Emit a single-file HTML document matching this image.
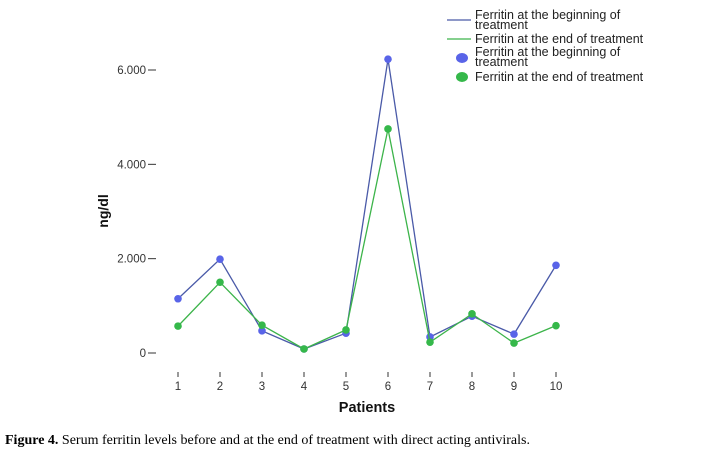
<!DOCTYPE html>
<html><head><meta charset="utf-8"><style>
html,body{margin:0;padding:0;background:#fff;width:706px;height:455px;overflow:hidden}
svg{display:block}
</style></head><body>
<svg id="chart" width="706" height="455" font-family="Liberation Sans, Arial, sans-serif">
<g id="legend">
  <line x1="447" y1="20" x2="471" y2="20" stroke="#4a5aa8" stroke-width="1.3"/>
  <text x="475" y="19" font-size="12.5" fill="#222">Ferritin at the beginning of</text>
  <text x="475" y="29" font-size="12.5" fill="#222">treatment</text>
  <line x1="447" y1="39" x2="471" y2="39" stroke="#3cb44a" stroke-width="1.3"/>
  <text x="475" y="43" font-size="12.5" fill="#222">Ferritin at the end of treatment</text>
  <ellipse cx="462" cy="58" rx="6" ry="5" fill="#5964e8"/>
  <text x="475" y="56" font-size="12.5" fill="#222">Ferritin at the beginning of</text>
  <text x="475" y="66" font-size="12.5" fill="#222">treatment</text>
  <ellipse cx="462" cy="77" rx="6" ry="5" fill="#35b84a"/>
  <text x="475" y="81" font-size="12.5" fill="#222">Ferritin at the end of treatment</text>
</g>
<g id="axes"></g>
<g id="series"></g>
<text x="108" y="211" font-size="14" font-weight="bold" fill="#111" transform="rotate(-90 108 211)" text-anchor="middle">ng/dl</text>
<text x="367" y="412" font-size="14.5" font-weight="bold" fill="#111" text-anchor="middle">Patients</text>
<text x="5" y="444" font-size="14" font-family="Liberation Serif, Times New Roman, serif" fill="#000"><tspan font-weight="bold">Figure 4.</tspan> Serum ferritin levels before and at the end of treatment with direct acting antivirals.</text>
</svg>
<script>
const categories = ["1","2","3","4","5","6","7","8","9","10"];
const beginValues = [1150, 1990, 470, 85, 420, 6230, 340, 780, 400, 1860];
const endValues = [570, 1500, 590, 85, 490, 4750, 230, 830, 210, 580];
const yTicks = [0, 2000, 4000, 6000];
const yTickLabels = ["0", "2.000", "4.000", "6.000"];

const NS = "http://www.w3.org/2000/svg";
function x(i){ return 178 + i * 42; }
function y(v){ return 353 - v * (283 / 6000); }
function mk(tag, attrs, parent){
  const e = document.createElementNS(NS, tag);
  for (const k in attrs) e.setAttribute(k, attrs[k]);
  parent.appendChild(e); return e;
}
const axes = document.getElementById("axes");
const series = document.getElementById("series");
yTicks.forEach((t, i) => {
  const ln = mk("line", {x1:148, x2:156, y1:y(t), y2:y(t), stroke:"#333", "stroke-width":1}, axes);
  
  
  const tx = mk("text", {x:146, y:y(t)+4, "font-size":11.5, fill:"#333", "text-anchor":"end"}, axes);
  tx.textContent = yTickLabels[i];
  
  
});
categories.forEach((c, i) => {
  const ln = mk("line", {x1:x(i), x2:x(i), y1:372, y2:377, stroke:"#333", "stroke-width":1}, axes);
  
  
  const tx = mk("text", {x:x(i), y:390, "font-size":11.5, fill:"#333", "text-anchor":"middle"}, axes);
  tx.textContent = c;
  
  
});
function drawSeries(vals, lineColor, dotColor, name){
  const pl = mk("polyline", {points: vals.map((v,i)=>x(i)+","+y(v)).join(" "), fill:"none", stroke:lineColor, "stroke-width":1.3}, series);
  
  
  vals.forEach((v,i) => {
    const c = mk("circle", {cx:x(i), cy:y(v), r:3.8, fill:dotColor}, series);
    
    
  });
}
drawSeries(beginValues, "#4a5aa8", "#5964e8", "ferritin-beginning");
drawSeries(endValues, "#3cb44a", "#35b84a", "ferritin-end");
</script>
</body></html>
